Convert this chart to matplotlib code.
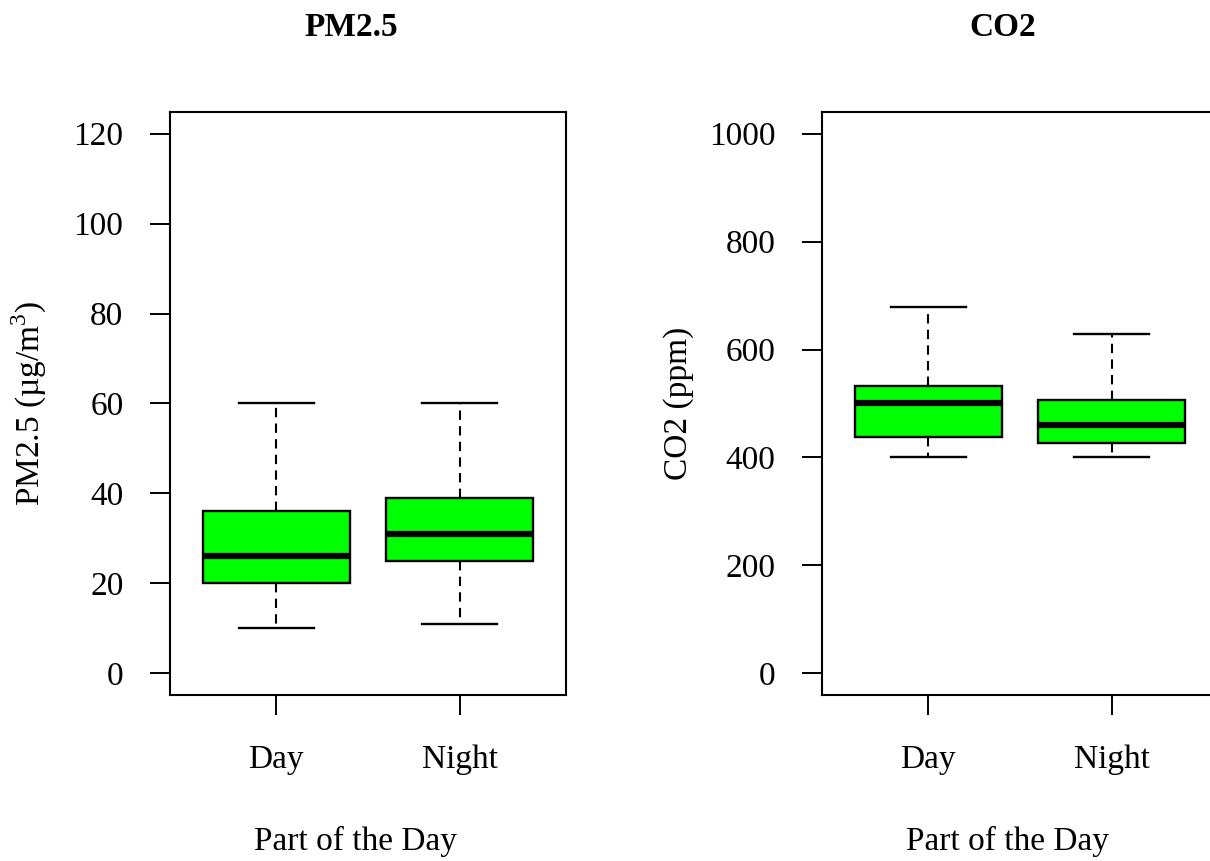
import matplotlib
matplotlib.use("Agg")
import matplotlib.pyplot as plt

plt.rcParams['font.family'] = ['Liberation Serif', 'DejaVu Serif']
plt.rcParams['mathtext.fontset'] = 'custom'
plt.rcParams['mathtext.rm'] = 'Liberation Serif'

# box statistics
groups = ['Day', 'Night']

pm_low = [10, 11]
pm_q1 = [20, 25]
pm_med = [26, 31]
pm_q3 = [36, 39]
pm_high = [60, 60]

co2_low = [400, 400]
co2_q1 = [438, 427]
co2_med = [500, 460]
co2_q3 = [532, 506]
co2_high = [679, 629]

pm_ticks = [0, 20, 40, 60, 80, 100, 120]
co2_ticks = [0, 200, 400, 600, 800, 1000]

FS = 24


def make_stats(low, q1, med, q3, high):
    stats = []
    for i in range(len(groups)):
        stats.append({'whislo': low[i], 'q1': q1[i], 'med': med[i],
                      'q3': q3[i], 'whishi': high[i], 'fliers': []})
    return stats


def draw_panel(ax, stats, ticks, ylabel, label_x):
    ax.bxp(stats, positions=[1, 2], widths=0.8, patch_artist=True,
           showfliers=False,
           boxprops=dict(facecolor='#00ff00', edgecolor='black', linewidth=1.7),
           medianprops=dict(color='black', linewidth=4.5, solid_capstyle='butt'),
           whiskerprops=dict(color='black', linewidth=1.5, linestyle=(0, (4.5, 3))),
           capprops=dict(color='black', linewidth=1.7),
           capwidths=0.41)
    lo, hi = ticks[0], ticks[-1]
    pad = (hi - lo) * 0.04
    ax.set_ylim(lo - pad, hi + pad)
    ax.set_xlim(0.42, 2.58)
    ax.set_yticks(ticks)
    ax.set_xticks([1, 2])
    ax.set_xticklabels(groups)
    ax.tick_params(axis='both', direction='out', length=14.5, width=1.4,
                   labelsize=FS)
    ax.tick_params(axis='y', pad=19)
    ax.tick_params(axis='x', pad=21)
    for s in ax.spines.values():
        s.set_linewidth(1.5)
    ax.set_ylabel(ylabel, fontsize=FS, va='center')
    ax.yaxis.set_label_coords(label_x, 0.5)


fig = plt.figure(figsize=(12.1, 8.61), dpi=100)

ax1 = fig.add_axes([170 / 1210, 1 - 695 / 861, 396 / 1210, 583 / 861])
draw_panel(ax1, make_stats(pm_low, pm_q1, pm_med, pm_q3, pm_high),
           pm_ticks, 'PM2.5 (µg/m$^3$)', -0.356)

ax2 = fig.add_axes([822 / 1210, 1 - 695 / 861, 396 / 1210, 583 / 861])
draw_panel(ax2, make_stats(co2_low, co2_q1, co2_med, co2_q3, co2_high),
           co2_ticks, 'CO2 (ppm)', -0.361)

fig.text(351 / 1210, 1 - 27 / 861, 'PM2.5', fontsize=FS, fontweight='bold',
         ha='center', va='center')
fig.text(1003 / 1210, 1 - 27 / 861, 'CO2', fontsize=FS, fontweight='bold',
         ha='center', va='center')
fig.text(356 / 1210, 1 - 841 / 861, 'Part of the Day', fontsize=FS,
         ha='center', va='center')
fig.text(1008 / 1210, 1 - 841 / 861, 'Part of the Day', fontsize=FS,
         ha='center', va='center')

fig.savefig('out.png', dpi=100)
